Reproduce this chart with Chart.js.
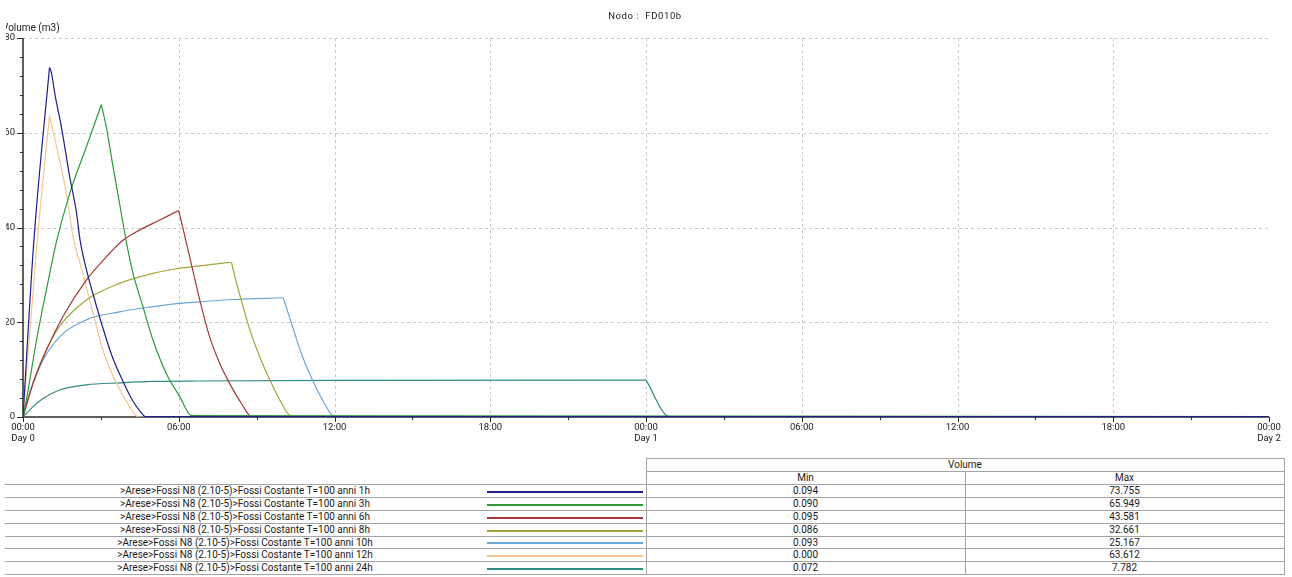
<!DOCTYPE html>
<html>
<head>
<meta charset="utf-8">
<script src="https://cdn.jsdelivr.net/npm/chart.js@4.4.1/dist/chart.umd.min.js"></script>
<style>
  html, body { margin:0; padding:0; background:#fff; }
  body { width:1292px; height:577px; position:relative; overflow:hidden; font-family:Roboto, 'DejaVu Sans', sans-serif; }
  #clip { position:absolute; left:6px; top:0; width:1286px; height:452px; overflow:hidden; }
  #wrap { position:absolute; left:-6px; top:0; width:1292px; height:452px; }
  #legend div { position:absolute; box-sizing:border-box; }
  .txt { font-size:10px; color:#1a1a1a; text-align:center; white-space:nowrap; }
  .ln { background:#a4a4a4; }
</style>
</head>
<body>
<div id="clip"><div id="wrap"><canvas id="chartVol"></canvas></div></div>
<div id="legend"></div>

<script>
// Nodo FD010b — volumi per durata di pioggia (ore dall'inizio, m3)

const chartTitle = 'Nodo :  FD010b';
const yTitle     = 'Volume (m3)';

const seriesNames = [
  '>Arese>Fossi N8 (2.10-5)>Fossi Costante T=100 anni 1h',
  '>Arese>Fossi N8 (2.10-5)>Fossi Costante T=100 anni 3h',
  '>Arese>Fossi N8 (2.10-5)>Fossi Costante T=100 anni 6h',
  '>Arese>Fossi N8 (2.10-5)>Fossi Costante T=100 anni 8h',
  '>Arese>Fossi N8 (2.10-5)>Fossi Costante T=100 anni 10h',
  '>Arese>Fossi N8 (2.10-5)>Fossi Costante T=100 anni 12h',
  '>Arese>Fossi N8 (2.10-5)>Fossi Costante T=100 anni 24h',
];
const minVals = ['0.094', '0.090', '0.095', '0.086', '0.093', '0.000', '0.072'];
const maxVals = ['73.755', '65.949', '43.581', '32.661', '25.167', '63.612', '7.782'];

// tempi (h) e volumi
const t1h  = [0, 0.42, 1.02, 1.08, 1.25, 1.48, 1.8, 2.05, 2.2, 2.48, 2.8, 3.06, 3.44, 3.83, 4.21, 4.5, 4.72, 48];
const v1h  = [0, 37.3, 73.755, 73.0, 67.5, 61.2, 50.7, 43.5, 37.3, 30.3, 24.0, 19.1, 12.7, 7.8, 3.6, 1.3, 0.1, 0.094];

const t3h  = [0, 0.13, 0.52, 0.9, 1.29, 1.8, 2.44, 3.02, 3.21, 3.47, 3.72, 3.97, 4.24, 4.62, 5.01, 5.52, 6.04, 6.49, 48];
const v3h  = [0, 3.6, 16.2, 26.8, 37.0, 47.2, 57.0, 65.949, 61.2, 52.8, 45.1, 37.3, 30.3, 23.3, 16.2, 9.2, 4.3, 0.3, 0.09];

const t6h  = [0, 0.39, 0.9, 1.54, 2.44, 3.21, 3.85, 4.37, 5.27, 6.0, 6.42, 6.81, 7.19, 7.58, 7.96, 8.41, 8.8, 48];
const v6h  = [0, 7.1, 14.1, 21.2, 28.9, 33.8, 37.3, 39.1, 41.6, 43.581, 33.8, 24.7, 16.9, 11.3, 7.1, 2.9, 0.1, 0.095];

const t8h  = [0, 0.26, 0.77, 1.41, 2.44, 3.72, 5.01, 6.04, 6.81, 8.03, 8.23, 8.48, 8.74, 9.12, 9.51, 9.89, 10.35, 48];
const v8h  = [0, 5.0, 12.7, 19.1, 24.7, 28.2, 30.3, 31.4, 31.9, 32.661, 28.2, 23.3, 18.4, 12.7, 7.8, 3.6, 0.1, 0.086];

const t10h = [0, 0.13, 0.64, 1.41, 2.44, 3.72, 5.01, 6.04, 6.81, 8.07, 10.02, 10.26, 10.51, 10.77, 11.15, 11.54, 12.0, 48];
const v10h = [0, 2.9, 10.6, 16.9, 20.5, 22.2, 23.3, 24.0, 24.3, 24.8, 25.167, 21.2, 16.9, 12.7, 7.8, 3.6, 0.1, 0.093];

const t12h = [0, 0.55, 1.02, 1.41, 1.67, 1.93, 2.31, 2.7, 3.08, 3.6, 4.11, 4.45, 48];
const v12h = [0, 37.3, 63.612, 54.2, 47.2, 38.0, 30.3, 21.9, 14.1, 7.1, 2.2, 0.0, 0.0];

const t24h = [0, 0.39, 0.77, 1.41, 2.44, 3.72, 5.01, 6.81, 12, 24, 24.9, 48];
const v24h = [0, 2.2, 3.9, 5.7, 6.8, 7.2, 7.5, 7.6, 7.75, 7.782, 0.1, 0.072];

const lineColors = ['#1f1f8c', '#2f9a3c', '#a3393c', '#a5a43c', '#6ba7d6', '#f2c795', '#2e8c85'];

const xTicks = [0, 6, 12, 18, 24, 30, 36, 42, 48];
const yTicks = [0, 20, 40, 60, 80];

const allT = [t1h, t3h, t6h, t8h, t10h, t12h, t24h];
const allV = [v1h, v3h, v6h, v8h, v10h, v12h, v24h];

function fmtHour(h) {
  const hh = String(h % 24).padStart(2, '0') + ':00';
  return h % 24 === 0 ? [hh, 'Day ' + (h / 24)] : hh;
}

// salita e discesa come due tratti, così il picco resta spigoloso
const datasets = [];
allT.forEach((ts, i) => {
  const pts = ts.map((t, k) => ({ x: t, y: allV[i][k] }));
  const kMax = allV[i].indexOf(Math.max(...allV[i]));
  [pts.slice(0, kMax + 1), pts.slice(kMax)].forEach(part => {
    datasets.push({
      label: seriesNames[i],
      data: part,
      borderColor: lineColors[i],
      borderWidth: 1.2,
      pointRadius: 0,
      cubicInterpolationMode: 'monotone',
      fill: false,
    });
  });
});

const decoPlugin = {
  id: 'deco',
  beforeDatasetsDraw(chart) {
    const { ctx, chartArea: a, scales: { x, y } } = chart;
    ctx.save();
    // griglia tratteggiata
    ctx.strokeStyle = '#c9c9c9';
    ctx.lineWidth = 1;
    ctx.setLineDash([3, 3]);
    ctx.beginPath();
    yTicks.filter(v => v > 0).forEach(v => {
      const py = Math.round(y.getPixelForValue(v)) + 0.5;
      ctx.moveTo(a.left, py); ctx.lineTo(a.right, py);
    });
    xTicks.filter(h => h > 0 && h < 48).forEach(h => {
      const px = Math.round(x.getPixelForValue(h)) + 0.5;
      ctx.moveTo(px, a.top); ctx.lineTo(px, a.bottom);
    });
    ctx.stroke();
    ctx.setLineDash([]);

    // assi
    ctx.strokeStyle = '#2b2b2b';
    ctx.lineWidth = 1.5;
    ctx.beginPath();
    ctx.moveTo(a.left, a.top); ctx.lineTo(a.left, a.bottom);
    ctx.lineTo(a.right, a.bottom);
    ctx.stroke();

    // tacche
    ctx.lineWidth = 1;
    ctx.beginPath();
    for (let v = 0; v <= 80; v += 4) {
      const py = Math.round(y.getPixelForValue(v)) + 0.5;
      ctx.moveTo(a.left - (v % 20 === 0 ? 6 : 3), py); ctx.lineTo(a.left, py);
    }
    for (let h = 0; h <= 48; h += 3) {
      const px = Math.round(x.getPixelForValue(h)) + 0.5;
      ctx.moveTo(px, a.bottom); ctx.lineTo(px, a.bottom + (h % 6 === 0 ? 5 : 3));
    }
    ctx.stroke();
    ctx.restore();
  },
  afterDraw(chart) {
    const { ctx } = chart;
    ctx.save();
    ctx.fillStyle = '#222';
    ctx.textBaseline = 'middle';
    ctx.font = '10px Roboto';
    ctx.textAlign = 'left';
    ctx.fillText(yTitle, 2, 28.5);
    ctx.textAlign = 'center';
    ctx.font = '9.5px Roboto';
    ctx.letterSpacing = '0.6px';
    ctx.fillText(chartTitle, 645, 16.5);
    ctx.restore();
  }
};

new Chart(document.getElementById('chartVol'), {
  type: 'line',
  data: { datasets },
  options: {
    responsive: true,
    maintainAspectRatio: false,
    animation: false,
    events: [],
    layout: { padding: { top: 38, right: 23, left: 0, bottom: 0 } },
    plugins: { legend: { display: false }, tooltip: { enabled: false }, title: { display: false } },
    scales: {
      x: {
        type: 'linear', min: 0, max: 48,
        afterFit: s => { s.height = 35; },
        afterBuildTicks: s => { s.ticks = xTicks.map(v => ({ value: v })); },
        ticks: {
          autoSkip: false, maxRotation: 0, padding: 5,
          color: '#222', font: { size: 9.5, family: 'Roboto' },
          callback: v => fmtHour(v),
        },
        grid: { display: false, drawTicks: false, tickLength: 0 },
        border: { display: false },
      },
      y: {
        min: 0, max: 80,
        afterFit: s => { s.width = 23; },
        afterBuildTicks: s => { s.ticks = yTicks.map(v => ({ value: v })); },
        ticks: { padding: 8, color: '#222', font: { size: 9.5, family: 'Roboto' } },
        grid: { display: false, drawTicks: false, tickLength: 0 },
        border: { display: false },
      },
    },
  },
  plugins: [decoPlugin],
});

// tabella legenda / min-max
const legend = document.getElementById('legend');
function box(l, t, w, h, cls, html, style) {
  const d = document.createElement('div');
  d.className = cls || '';
  Object.assign(d.style, { left: l + 'px', top: t + 'px', width: w + 'px', height: h + 'px' }, style || {});
  if (html != null) { d.textContent = html; d.style.lineHeight = h + 'px'; }
  legend.appendChild(d);
}
const rowTop = i => Math.round(484.3 + i * 12.81);
const xL = 5, xSw = 485, xMin = 646, xMax = 965, xEnd = 1284;

box(xMin, 458, xEnd - xMin, 1, 'ln');
box(xMin, 471, xEnd - xMin, 1, 'ln');
box(xMin, 458, 1, 574 - 458, 'ln');
box(xMax, 471, 1, 574 - 471, 'ln');
box(xEnd, 458, 1, 574 - 458 + 1, 'ln');
box(xMin, 459, xEnd - xMin, 12, 'txt', 'Volume');
box(xMin, 472, xMax - xMin, 12, 'txt', 'Min');
box(xMax, 472, xEnd - xMax, 12, 'txt', 'Max');

for (let i = 0; i <= seriesNames.length; i++) box(xL, rowTop(i), xEnd - xL, 1, 'ln');
seriesNames.forEach((name, i) => {
  const t = rowTop(i) + 1, h = rowTop(i + 1) - t;
  box(xL, t, xSw - xL, h, 'txt', name);
  box(xSw + 2, t + Math.floor(h / 2), 156, 1.5, '', null, { background: lineColors[i] });
  box(xMin, t, xMax - xMin, h, 'txt', minVals[i]);
  box(xMax, t, xEnd - xMax, h, 'txt', maxVals[i]);
});
</script>
</body>
</html>
